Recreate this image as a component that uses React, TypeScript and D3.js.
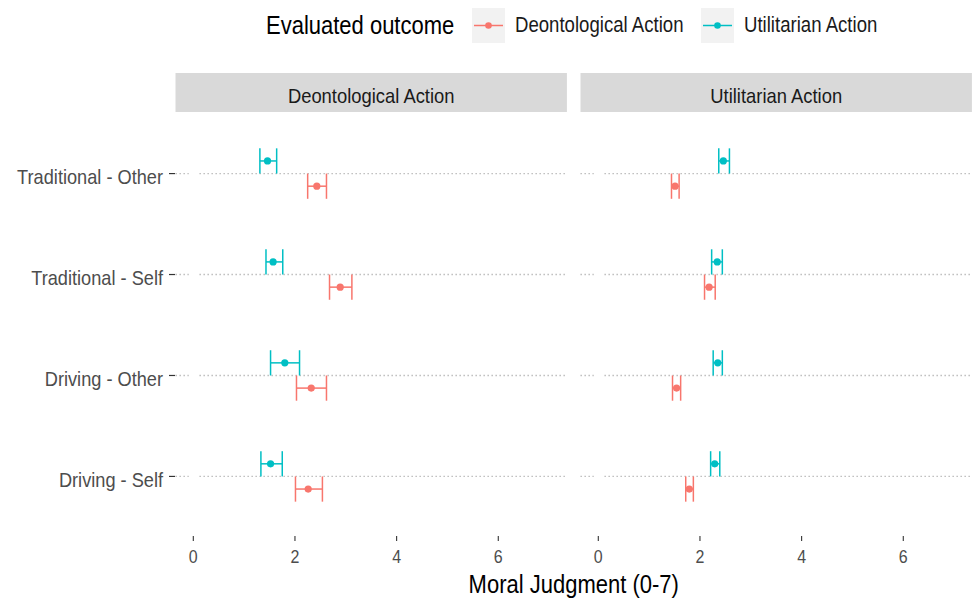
import React from "react";
import * as d3 from "d3";

const categories = ["Traditional - Other", "Traditional - Self", "Driving - Other", "Driving - Self"];
const panels = ["Deontological Action", "Utilitarian Action"];
const outcomes = ["Deontological Action", "Utilitarian Action"];
const colors = ["#F8766D", "#00BFC4"];
const xTicks = [0, 2, 4, 6];

// Panel "Deontological Action"
const p1DeonMean = [2.43, 2.89, 2.32, 2.26];
const p1DeonLo = [2.25, 2.68, 2.03, 2.01];
const p1DeonHi = [2.62, 3.12, 2.62, 2.54];
const p1UtilMean = [1.46, 1.57, 1.8, 1.52];
const p1UtilLo = [1.31, 1.43, 1.52, 1.33];
const p1UtilHi = [1.64, 1.76, 2.09, 1.75];

// Panel "Utilitarian Action"
const p2DeonMean = [1.51, 2.18, 1.54, 1.79];
const p2DeonLo = [1.44, 2.09, 1.46, 1.72];
const p2DeonHi = [1.59, 2.3, 1.62, 1.87];
const p2UtilMean = [2.46, 2.34, 2.35, 2.29];
const p2UtilLo = [2.37, 2.23, 2.26, 2.21];
const p2UtilHi = [2.58, 2.44, 2.44, 2.39];

const panelData = [
  [
    { mean: p1DeonMean, lo: p1DeonLo, hi: p1DeonHi },
    { mean: p1UtilMean, lo: p1UtilLo, hi: p1UtilHi },
  ],
  [
    { mean: p2DeonMean, lo: p2DeonLo, hi: p2DeonHi },
    { mean: p2UtilMean, lo: p2UtilLo, hi: p2UtilHi },
  ],
];

const W = 975;
const H = 598;
const FONT = "'Liberation Sans', Arial, sans-serif";
const SY = 1.14;

function T(props: { x: number; y: number; size: number; fill: string; anchor?: string; children: React.ReactNode }) {
  return (
    <text
      transform={`translate(${props.x},${props.y}) scale(1,${SY})`}
      dy="0.35em"
      fontSize={props.size}
      fill={props.fill}
      textAnchor={props.anchor || "start"}
    >
      {props.children}
    </text>
  );
}

export default function App() {
  const unit = 50.83;
  const panelLeft = [193.3 - 0.35 * unit, 598.3 - 0.35 * unit];
  const panelW = 7.7 * unit;
  const top = 113;
  const bottom = 537;

  const y = d3.scalePoint<string>().domain(categories).range([top, bottom]).padding(0.6);
  const step = y.step();
  const dodge = [0.125 * step, -0.125 * step]; // Deontological below, Utilitarian above
  const cap = 0.125 * step;

  return (
    <svg width={W} height={H} style={{ position: "absolute", left: 0, top: 0, background: "#fff" }} fontFamily={FONT}>
      <rect width={W} height={H} fill="#fff" />
      {/* Legend */}
      <T x={266} y={25} size={22} fill="#000">Evaluated outcome</T>
      {outcomes.map((o, i) => {
        const kx = [472, 701][i];
        return (
          <g key={o}>
            <rect x={kx} y={8} width={33} height={35} fill="#f2f2f2" />
            <line x1={kx + 2} x2={kx + 31} y1={25.5} y2={25.5} stroke={colors[i]} strokeWidth={1.5} />
            <circle cx={kx + 16.5} cy={25.5} r={3.3} fill={colors[i]} />
            <T x={kx + 43} y={25} size={18.6} fill="#1a1a1a">{o}</T>
          </g>
        );
      })}

      {panels.map((p, pi) => {
        const x = d3.scaleLinear().domain([-0.35, 7.35]).range([panelLeft[pi], panelLeft[pi] + panelW]);
        const left = panelLeft[pi];
        return (
          <g key={p}>
            {/* strip */}
            <rect x={left} y={73} width={panelW} height={39} fill="#d9d9d9" />
            <T x={left + panelW / 2} y={96} size={18.4} fill="#1a1a1a" anchor="middle">{p}</T>
            {/* grid */}
            {categories.map((c) => (
              <line key={c} x1={left} x2={left + panelW} y1={y(c)} y2={y(c)} stroke="#b3b3b3" strokeWidth={1.3} strokeDasharray="1.3 2.7" />
            ))}
            <line x1={x(0)} x2={x(0)} y1={top} y2={bottom} stroke="#fff" strokeWidth={9} />
            {/* x axis ticks */}
            {xTicks.map((t) => (
              <g key={t}>
                <line x1={x(t)} x2={x(t)} y1={bottom - 1} y2={bottom + 4} stroke="#333" strokeWidth={1.1} />
                <T x={x(t)} y={557} size={16} fill="#4d4d4d" anchor="middle">{t}</T>
              </g>
            ))}
            {/* data */}
            {panelData[pi].map((s, si) => (
              <g key={si} stroke={colors[si]} fill={colors[si]}>
                {categories.map((c, ci) => {
                  const cy = (y(c) as number) + dodge[si];
                  const x0 = x(s.lo[ci]);
                  const x1 = x(s.hi[ci]);
                  return (
                    <g key={c}>
                      <line x1={x0} x2={x1} y1={cy} y2={cy} strokeWidth={1.5} />
                      <line x1={x0} x2={x0} y1={cy - cap} y2={cy + cap} strokeWidth={1.5} />
                      <line x1={x1} x2={x1} y1={cy - cap} y2={cy + cap} strokeWidth={1.5} />
                      <circle cx={x(s.mean[ci])} cy={cy} r={3.6} stroke="none" />
                    </g>
                  );
                })}
              </g>
            ))}
          </g>
        );
      })}

      {/* y axis */}
      {categories.map((c) => (
        <g key={c}>
          <line x1={169} x2={175} y1={y(c)} y2={y(c)} stroke="#333" strokeWidth={1.2} />
          <T x={163} y={(y(c) as number) + 3} size={18.2} fill="#4d4d4d" anchor="end">{c}</T>
        </g>
      ))}

      <T x={(panelLeft[0] + panelLeft[1] + panelW) / 2} y={584} size={22} fill="#000" anchor="middle">Moral Judgment (0-7)</T>
    </svg>
  );
}
